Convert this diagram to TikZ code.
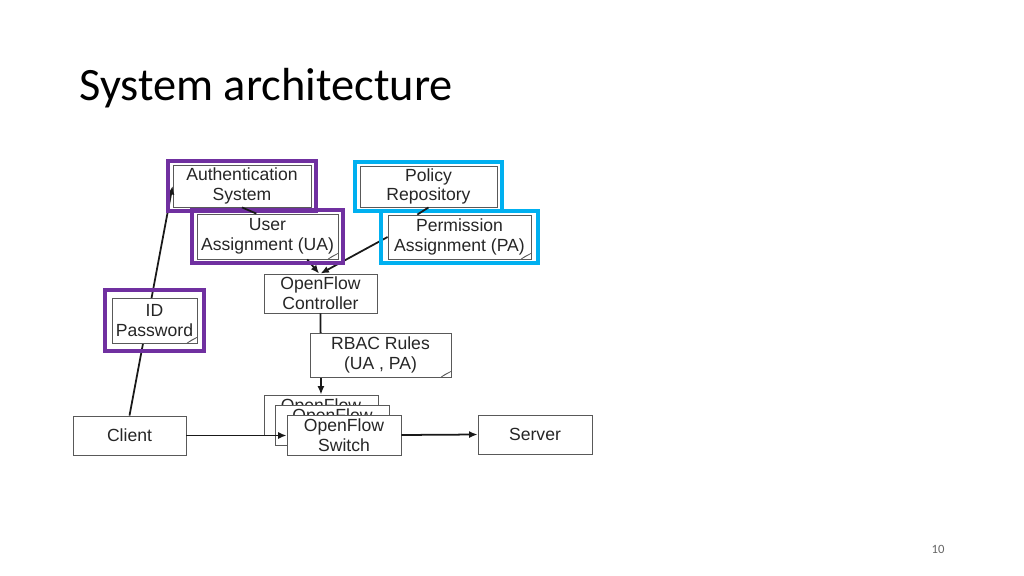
\documentclass[tikz,border=0pt]{standalone}
\usepackage{fontspec}
\setmainfont{Carlito}
\newfontfamily\diagfont{Liberation Sans}
\usetikzlibrary{arrows.meta,calc,fit,positioning}

\definecolor{frpurple}{HTML}{7030A0}
\definecolor{frblue}{HTML}{00B0F0}

\tikzset{
  box/.style={draw=black!65,line width=0.6pt,fill=white,align=center,inner sep=0pt,
    text=black!85,font=\diagfont\fontsize{12.5}{14}\selectfont},
  note/.style={box,path picture={
    \draw[black!65,line width=0.5pt,fill=white]
      ([xshift=-7pt]path picture bounding box.south east)
      .. controls ([xshift=-3pt,yshift=2pt]path picture bounding box.south east) ..
      ([yshift=4pt]path picture bounding box.south east)
      -- ([xshift=-4pt,yshift=2pt]path picture bounding box.south east) -- cycle;}},
  pframe/.style={draw=frpurple,line width=2.85pt,inner xsep=3.5pt,inner ysep=2.7pt},
  bframe/.style={draw=frblue,line width=2.85pt,inner xsep=3.5pt,inner ysep=2.7pt},
  link/.style={line width=1.25pt,black!90},
  arr/.style={link,-{Latex[length=6pt,width=5pt]}}
}

\begin{document}
\begin{tikzpicture}[x=0.025cm,y=-0.025cm,node distance=1.3cm]
\useasboundingbox (0,0) rectangle (1024,576);

% title and page number
\node[anchor=base west,inner sep=0pt,font=\fontsize{33}{39}\selectfont] (title) at (79,101) {System architecture};
\node[font=\fontsize{9}{10}\selectfont,text=black!60] (pageno) at (938,549) {10};

% Nodes
\node[box,minimum width=2.825cm,minimum height=0.975cm] (client) at (129.5,435.5) {Client};
\node[box,minimum width=2.85cm,minimum height=0.975cm] (server) at (535,434.5) {Server};
\node[box,minimum width=2.825cm,minimum height=0.975cm] (ctrl) at (320.5,293.5) {OpenFlow\\Controller};
\node[box,minimum width=3.45cm,minimum height=1.05cm] (auth) at (242,186) {Authentication\\System};
\node[box,minimum width=3.425cm,minimum height=1.025cm] (policy) at (428.5,186.5) {Policy\\Repository};

% client to authentication (under the ID box)
\path (client.north) edge[arr] (auth.west);

\node[note,below of=auth,xshift=0.6375cm,yshift=0.0375cm,minimum width=3.525cm,minimum height=1.125cm] (ua) {User\\Assignment (UA)};
\node[note,below of=policy,xshift=0.775cm,yshift=0.0375cm,minimum width=3.575cm,minimum height=1.1cm] (pa) {Permission\\Assignment (PA)};
\node[note,minimum width=2.125cm,minimum height=1.125cm] (idpw) at (154.5,320.5) {ID\\Password};

% switch stack
\node[box,minimum width=2.85cm,minimum height=1cm] (sw1) at (321,415) {OpenFlow\\Switch};
\node[box,xshift=0.2875cm,yshift=-0.25cm,minimum width=2.85cm,minimum height=1cm] (sw2) at (sw1) {OpenFlow\\Switch};
\coordinate (swin) at ([xshift=0.575cm,yshift=-0.5cm]sw1.west);

%arcs
\path (ctrl.south) edge[arr] (sw1.north);
\path (client.east) edge[arr] (client.east -| swin);
\node[box,xshift=0.575cm,yshift=-0.5cm,minimum width=2.85cm,minimum height=1cm] (sw3) at (sw1) {OpenFlow\\Switch};
\path (sw3.east) edge[arr] (server.west);

\node[note,minimum width=3.525cm,minimum height=1.1cm] (rbac) at (380.5,355) {RBAC Rules\\(UA , PA)};

\path (ua.-30) edge[arr] ([xshift=-1pt]ctrl.north);
\path (pa.west) edge[arr] (ctrl.north);

% frames
\node[pframe,fit=(auth)] (authframe) {};
\node[bframe,fit=(policy)] (policyframe) {};
\node[pframe,fit=(ua)] (uaframe) {};
\node[bframe,inner xsep=4.5pt,fit=(pa)] (paframe) {};
\node[pframe,inner xsep=5pt,inner ysep=5.5pt,fit=(idpw)] (idframe) {};

\path (auth.south) edge[link] (ua.116);
\path (policy.south) edge[link] (pa.152);

\end{tikzpicture}
\end{document}
